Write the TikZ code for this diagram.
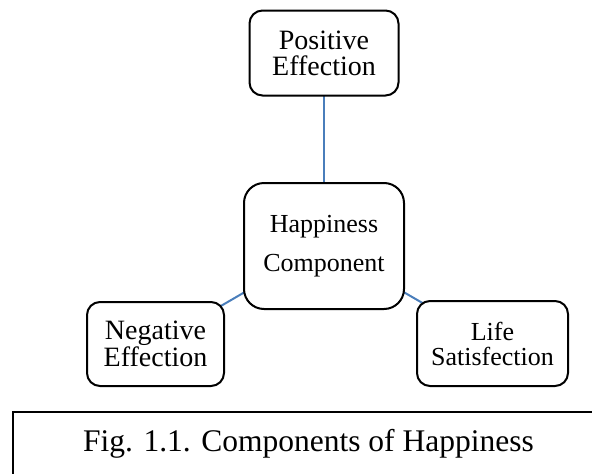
\documentclass[tikz,border=0pt]{standalone}
\usepackage{fontspec}
\setmainfont{Liberation Serif}
\usetikzlibrary{backgrounds}
\definecolor{linkblue}{RGB}{74,126,187}
\begin{document}
\begin{tikzpicture}[x=1pt,y=-1pt,
  box/.style={draw=black,line width=2pt,fill=white,rounded corners=13pt,inner sep=0pt,align=center},
  link/.style={draw=linkblue,line width=2pt}]
\useasboundingbox (0,0) rectangle (592,474);
\begin{scope}
\clip (0,0) rectangle (592,474);
\node[box,minimum width=149pt,minimum height=85pt,font=\fontsize{28}{26}\selectfont] (pos) at (324,53) {Positive\\Effection};
\node[box,rounded corners=20pt,minimum width=160pt,minimum height=126pt,font=\fontsize{26}{39}\selectfont] (hc) at (324,246) {Happiness\\Component};
\node[box,minimum width=137pt,minimum height=84pt,font=\fontsize{28}{25}\selectfont] (neg) at (155.5,344) {Negative\\Effection};
\node[box,minimum width=151pt,minimum height=85pt,font=\fontsize{26}{25}\selectfont] (life) at (492.5,343.5) {Life\\Satisfection};
\begin{scope}[on background layer]
\draw[link] (pos.center) -- (hc.center);
\draw[link] (hc.center) -- (neg.center);
\draw[link] (hc.center) -- (life.center);
\end{scope}
\coordinate (capnw) at (12.5,412);
\coordinate (capse) at (620,500);
\draw[line width=2pt] (capnw) rectangle (capse);
\node[anchor=base west,inner sep=0pt,font=\fontsize{31.5}{36}\selectfont] (cap) at (83,451) {Fig. 1.1. Components of Happiness};
\end{scope}
\end{tikzpicture}
\end{document}
